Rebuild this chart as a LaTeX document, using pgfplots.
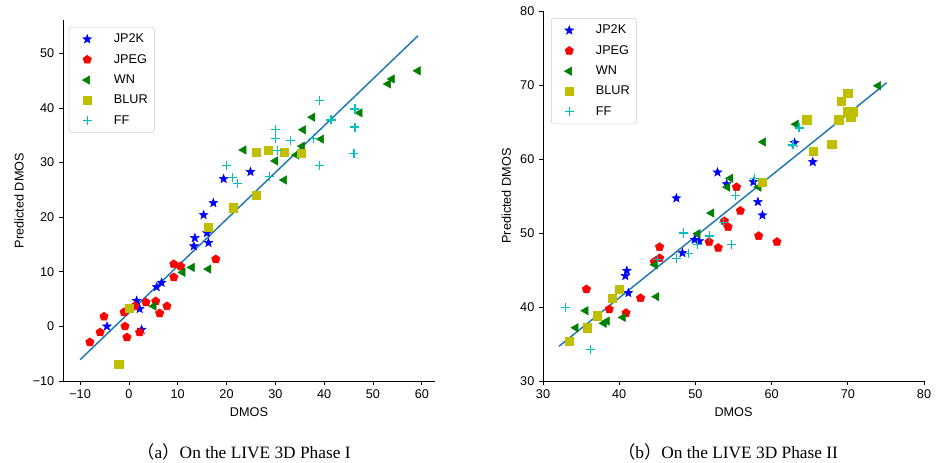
\documentclass[border=0pt]{standalone}
\usepackage{pgfplots}
\pgfplotsset{compat=1.18}
\usepackage{fontspec}
\setmainfont{Liberation Sans}
\newfontfamily\capfont{Liberation Serif}
\newfontfamily\cjk{Noto Sans CJK SC}

\definecolor{fitblue}{HTML}{1F77B4}
\definecolor{mb}{rgb}{0,0,1}
\definecolor{mr}{rgb}{1,0,0}
\definecolor{mg}{rgb}{0,0.5,0}
\definecolor{my}{rgb}{0.75,0.75,0}
\definecolor{mc}{rgb}{0,0.75,0.75}

% filled five-pointed star, like matplotlib's '*'
\pgfdeclareplotmark{fstar}{%
  \pgfpathmoveto{\pgfpointpolar{90}{\pgfplotmarksize}}%
  \pgfpathlineto{\pgfpointpolar{126}{0.42\pgfplotmarksize}}%
  \pgfpathlineto{\pgfpointpolar{162}{\pgfplotmarksize}}%
  \pgfpathlineto{\pgfpointpolar{198}{0.42\pgfplotmarksize}}%
  \pgfpathlineto{\pgfpointpolar{234}{\pgfplotmarksize}}%
  \pgfpathlineto{\pgfpointpolar{270}{0.42\pgfplotmarksize}}%
  \pgfpathlineto{\pgfpointpolar{306}{\pgfplotmarksize}}%
  \pgfpathlineto{\pgfpointpolar{342}{0.42\pgfplotmarksize}}%
  \pgfpathlineto{\pgfpointpolar{18}{\pgfplotmarksize}}%
  \pgfpathlineto{\pgfpointpolar{54}{0.42\pgfplotmarksize}}%
  \pgfpathclose
  \pgfusepathqfillstroke}

\pgfplotsset{
  scat/.style={
    scale only axis, axis lines=left, axis line style={-, line width=0.6pt},
    tick align=outside, major tick length=3pt, tick style={black, line width=0.6pt},
    tick label style={font=\fontsize{9.5}{10}\selectfont},
    label style={font=\fontsize{9.5}{10}\selectfont},
    /pgf/number format/assume math mode=true,
    xlabel={DMOS}, ylabel={Predicted DMOS},
    legend cell align=left,
    legend style={anchor=north west, draw=black!20, rounded corners=2pt,
      font=\fontsize{9.5}{10}\selectfont, row sep=3.2pt, inner xsep=3pt, inner ysep=3pt,
      /tikz/every odd column/.append style={column sep=7.5pt}},
    legend image code/.code={\path[draw=none, fill=none] (0pt,-2pt) rectangle (21pt,2pt);
      \draw[#1] plot coordinates {(10.5pt,0pt)};},
  },
  jp/.style={only marks, mark=fstar, mark size=3.4pt, color=mb, mark options={line width=0.4pt}},
  jg/.style={only marks, mark=pentagon*, mark size=3.3pt, color=mr},
  wn/.style={only marks, mark=triangle*, mark size=3.6pt, color=mg, mark options={rotate=90}},
  bl/.style={only marks, mark=square*, mark size=3.1pt, color=my},
  ff/.style={only marks, mark=+, mark size=3.4pt, color=mc, mark options={line width=0.9pt}},
  fit/.style={fitblue, line width=1.1pt, no marks, forget plot},
}

\begin{document}
\begin{tikzpicture}
\useasboundingbox (0pt,0pt) rectangle (702.75pt,346.5pt);

% (a) LIVE 3D Phase I
\begin{axis}[scat, at={(47.25pt,60.75pt)}, anchor=south west, width=279pt, height=270.75pt,
  xmin=-13.5, xmax=62.7, ymin=-10, ymax=56.1,
  xtick={-10,0,10,20,30,40,50,60}, xticklabels={−10,0,10,20,30,40,50,60},
  ytick={-10,0,10,20,30,40,50}, yticklabels={−10,0,10,20,30,40,50},
  legend style={at={(axis description cs:0.016,0.981)}}]
\addplot[jp] coordinates {(-4.5,0) (1.6,4.7) (2.2,3.2) (2.6,-0.6) (5.7,7.2) (6.7,8.0)
  (13.3,14.7) (13.5,16.2) (16,17.1) (16.3,15.3) (15.3,20.4) (17.3,22.6) (19.4,27.0) (24.9,28.3)};
\addplot[jg] coordinates {(-8,-2.9) (-5.9,-1.1) (-5.1,1.8) (-0.8,0) (-0.4,-2) (-1,2.6)
  (2.2,-1.1) (1.2,3.7) (3.5,4.4) (5.5,4.6) (6.3,2.4) (7.8,3.7) (9.2,11.4) (10.6,11)
  (9.2,9.0) (17.8,12.3)};
\addplot[wn] coordinates {(5.1,3.7) (11,9.9) (12.9,10.8) (16.3,10.5) (23.5,32.3) (30,30.3)
  (31.8,26.8) (35.7,36) (37.6,38.3) (35.5,33) (39.4,34.3) (34.3,31.4) (47.3,39.1)
  (53.1,44.4) (53.9,45.3) (59.2,46.8)};
\addplot[bl] coordinates {(-2.1,-7) (0,3.3) (16.3,18.2) (21.4,21.7) (26.1,24) (26.1,31.9)
  (28.6,32.3) (31.8,31.9) (35.3,31.7)};
\addplot[ff] coordinates {(20,29.4) (21.2,27.3) (22.2,26.2) (28.8,27.5) (30,36.1) (30,34.4)
  (30.4,32.2) (33.1,34) (37.8,34.4) (39,41.3) (41.4,37.8) (39,29.4) (46.3,39.8)
  (46.3,36.5) (46.1,31.7)};
\addplot[fit] coordinates {(-10,-6.1) (59.2,53.2)};
\legend{JP2K, JPEG, WN, BLUR, FF}
\end{axis}

% (b) LIVE 3D Phase II
\begin{axis}[scat, at={(407.25pt,60.75pt)}, anchor=south west, width=285.75pt, height=277.5pt,
  xmin=30, xmax=80, ymin=30, ymax=80,
  xtick={30,40,...,80}, ytick={30,40,...,80},
  legend style={at={(axis description cs:0.021,0.981)}}]
\addplot[jp] coordinates {(47.5,54.7) (54.1,56.6) (57.6,56.9) (58.2,54.2) (58.8,52.4)
  (49.9,49.1) (50.5,48.9) (48.3,47.3) (40.8,44.2) (41,44.9) (41.2,41.9) (52.9,58.2)
  (63,62.2) (65.4,59.6)};
\addplot[jg] coordinates {(35.7,42.4) (38.7,39.7) (40.9,39.2) (42.8,41.2) (45.3,48.1)
  (45.3,46.6) (44.6,46.1) (51.8,48.8) (53,48) (53.8,51.6) (54.3,50.8) (55.9,53)
  (55.4,56.2) (58.3,49.6) (60.7,48.8)};
\addplot[wn] coordinates {(34.3,37.2) (35.6,39.5) (38,37.8) (38.4,38.1) (40.5,38.6)
  (44.9,41.4) (44.7,45.7) (50.3,49.9) (52.1,52.7) (54.2,56.2) (54.6,57.4) (58.3,56.2)
  (58.9,62.3) (63.2,64.7) (74,69.9)};
\addplot[bl] coordinates {(33.4,35.4) (35.8,37.2) (37.1,38.8) (39.1,41.2) (40,42.4)
  (58.8,56.9) (64.6,65.3) (65.5,61) (67.9,62) (69.1,67.8) (70,68.9) (68.8,65.3)
  (69.9,66.4) (70.7,66.4) (70.4,65.7)};
\addplot[ff] coordinates {(32.9,39.9) (36.2,34.3) (47.5,46.6) (49.1,47.2) (48.4,50)
  (50.3,48.5) (51.8,49.6) (53.7,51.4) (54.7,48.5) (55.3,55.1) (45,46.4) (57.8,57.4)
  (62.8,61.9) (63.6,64.2)};
\addplot[fit] coordinates {(32.1,34.7) (75.1,70.3)};
\legend{JP2K, JPEG, WN, BLUR, FF}
\end{axis}

\node[font=\capfont\fontsize{13}{14}\selectfont] at (183pt,7.5pt) {{\cjk （}a{\cjk ）}On the LIVE 3D Phase I};
\node[font=\capfont\fontsize{13}{14}\selectfont] at (546pt,7.5pt) {{\cjk （}b{\cjk ）}On the LIVE 3D Phase II};
\end{tikzpicture}
\end{document}
